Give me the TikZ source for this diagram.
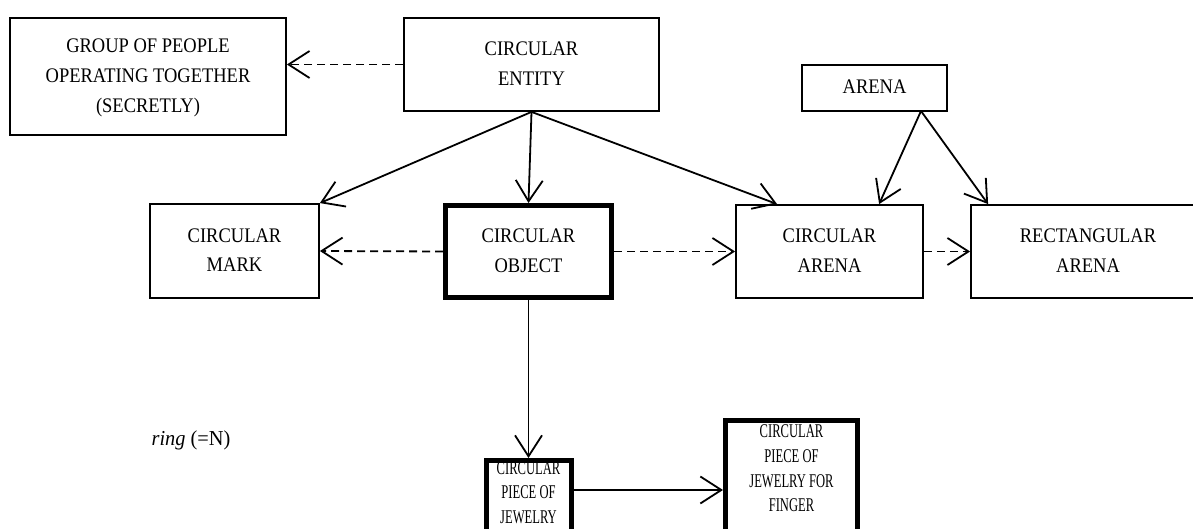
\documentclass[tikz,border=0pt]{standalone}
\usepackage{fontspec}
\setmainfont{Liberation Serif}
\usetikzlibrary{arrows.meta}
% stacked, centred lines, slightly tall; optional raise
\newcommand{\boxlines}[2][0pt]{\raisebox{#1}{\scalebox{1}[1.12]{\begin{tabular}{@{}c@{}}#2\end{tabular}}}}
% narrower stacked lines for the lower boxes
\newcommand{\narrowlines}[1]{\scalebox{0.68}[1.05]{\begin{tabular}{@{}c@{}}#1\end{tabular}}}
\begin{document}
\begin{tikzpicture}[x=1pt,y=-1pt,
  txt/.style={inner sep=0pt, font=\fontsize{18.5}{26.5}\selectfont},
  box/.style={txt, draw, line width=1.8pt},
  boldbox/.style={box, line width=5pt},
  smalltxt/.style={inner sep=0pt, font=\fontsize{18.5}{23.5}\selectfont},
  link/.style={line width=1.8pt, -{Straight Barb[length=21pt,width=27pt,line width=1.8pt]}},
  dlink/.style={link, dash pattern=on 8pt off 5pt},
]
\useasboundingbox (0,0) rectangle (1193,529);
\clip (0,0) rectangle (1193,529);

% upper row
\node[box, minimum width=276pt, minimum height=117pt] (group) at (148,76.5)
  {\boxlines[1.5pt]{GROUP OF PEOPLE\\OPERATING TOGETHER\\(SECRETLY)}};
\node[box, minimum width=255pt, minimum height=93pt] (entity) at (531.5,64.5)
  {\boxlines[4.5pt]{CIRCULAR\\ENTITY}};
\node[box, minimum width=145pt, minimum height=46pt] (arena) at (874.5,88)
  {\boxlines[-3pt]{ARENA}};

% middle row
\node[box, minimum width=169pt, minimum height=94pt] (mark) at (234.5,251)
  {\boxlines[4.5pt]{CIRCULAR\\MARK}};
\node[boldbox, minimum width=166pt, minimum height=92pt] (object) at (528.5,251.5)
  {\boxlines[3.5pt]{CIRCULAR\\OBJECT}};
\node[box, minimum width=187pt, minimum height=93pt] (carena) at (829.5,251.5)
  {\boxlines[4pt]{CIRCULAR\\ARENA}};
\node[box, minimum width=234pt, minimum height=93pt] (rarena) at (1088,251.5)
  {\boxlines[4pt]{RECTANGULAR\\ARENA}};

% lower row (boxes run past the lower edge)
\node[boldbox, minimum width=85pt, minimum height=140pt, anchor=north] (jew1) at (528.5,458) {};
\node[smalltxt] (jew1text) at (528.5,494) {\narrowlines{CIRCULAR\\PIECE OF\\JEWELRY}};
\node[boldbox, minimum width=132pt, minimum height=180pt, anchor=north] (jew2) at (791.5,418) {};
\node[smalltxt] (jew2text) at (791.5,470) {\narrowlines{CIRCULAR\\PIECE OF\\JEWELRY FOR\\FINGER}};

\node[txt] (ringlabel) at (191,440) {\scalebox{1.1}[1.15]{\textit{ring} (=N)}};

% connectors
\coordinate (arenafoot) at (921,111);
\draw[dlink] (entity.west) -- (group.east |- entity.west);
\draw[link] (entity.south) -- (mark.north east);
\draw[link] (entity.south) -- (object.north);
\draw[link] (entity.south) -- ([xshift=42pt]carena.north west);
\draw[link] (arenafoot) -- ([xshift=144pt]carena.north west);
\draw[link] (arenafoot) -- ([xshift=18pt]rarena.north west);
\draw[dlink] (object.west) -- (mark.east);
\draw[dlink] (object.east) -- (carena.west);
\draw[dlink] (carena.east) -- (rarena.west);
\draw[link] (object.south) -- (jew1.north);
\coordinate (jy) at (0,490);
\draw[link] (jew1.east |- jy) -- (jew2.west |- jy);
\end{tikzpicture}
\end{document}
